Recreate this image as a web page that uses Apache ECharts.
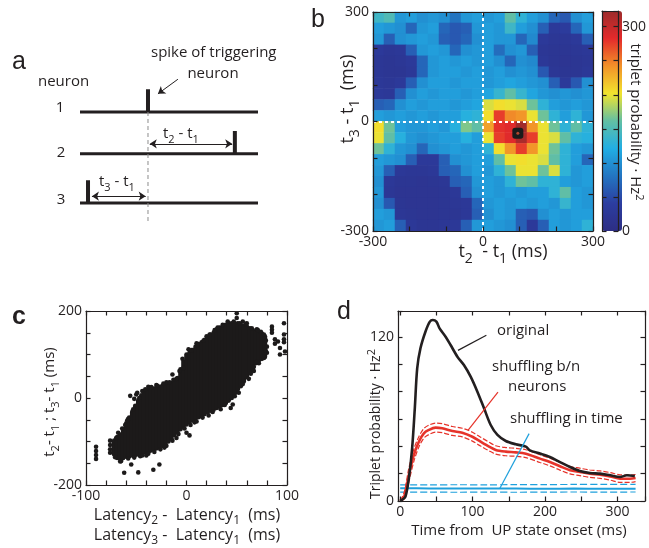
<!DOCTYPE html>
<html>
<head>
<meta charset="utf-8">
<script src="https://cdn.jsdelivr.net/npm/echarts@6/dist/echarts.min.js"></script>
<style>
html, body { margin: 0; padding: 0; background: #fff; }
#chart { width: 649px; height: 548px; }
</style>
</head>
<body>
<div id="chart"></div>
<script>
// ---------- panel a: schematic of one triplet ----------
var neuronNames = ['1', '2', '3'];
var rowLevels = [2, 1.08, 0];
var spikeTimes = [38.2, 87, 4.5];
var spikeHeight = 0.5;
var lagArrowLevels = [1.3, 0.15];
var dashBottom = -0.42;

// ---------- panel b: triplet probability map (Hz^2), 30 ms bins ----------
var binCenters = [-285, -255, -225, -195, -165, -135, -105, -75, -45, -15,
                  15, 45, 75, 105, 135, 165, 195, 225, 255, 285];
// rows from t3-t1 = +285 (top) down to -285 (bottom)
var heatRows = [
  [140,150,105,110,100,105,100,80,105,110,105,110,160,130,110,100,70,60,100,110],
  [110,105,100,70,105,110,70,60,65,105,110,105,140,110,100,65,30,35,70,105],
  [105,65,100,105,110,105,65,60,70,100,110,105,105,70,95,30,25,25,30,65],
  [30,25,28,65,105,110,105,70,100,105,110,75,100,105,65,25,22,22,25,28],
  [25,22,25,30,70,105,110,105,110,105,110,100,70,100,95,28,22,20,22,25],
  [25,22,22,28,70,105,110,110,105,110,105,110,100,105,100,60,25,22,22,28],
  [28,25,30,65,100,110,110,105,110,110,105,110,115,110,105,100,65,30,60,100],
  [30,28,65,100,110,105,110,110,105,110,115,135,160,135,115,105,100,105,100,105],
  [65,70,100,110,105,110,110,105,110,115,195,205,200,195,165,130,110,105,110,105],
  [110,105,110,105,110,105,110,110,125,130,205,275,245,240,200,165,130,110,130,105],
  [205,165,110,105,105,110,105,125,170,160,235,280,285,320,240,200,165,130,160,130],
  [200,160,125,105,100,105,110,110,125,110,200,275,285,315,275,200,195,160,130,125],
  [165,130,105,100,70,100,105,110,105,110,130,205,240,275,240,200,165,130,110,105],
  [110,105,100,65,30,30,65,100,105,110,110,160,200,205,200,195,160,130,110,70],
  [105,65,28,25,25,28,65,70,100,110,105,130,165,200,200,165,195,130,105,110],
  [100,28,22,22,20,22,25,65,70,105,110,105,130,165,160,130,130,110,105,110],
  [105,25,20,20,20,20,22,28,65,100,110,105,110,105,110,110,130,160,110,105],
  [100,60,22,20,20,20,22,25,28,70,105,110,105,110,105,110,105,135,110,105],
  [110,105,25,22,20,20,22,22,28,65,100,110,105,65,60,100,110,105,110,110],
  [105,110,65,28,22,22,25,28,65,105,110,105,100,65,30,65,110,105,110,130]
];
var heatMax = 323;
var peakPoint = [95, -32];
var bTicks = [-300, 0, 300];
var barTicks = [0, 300];

// ---------- panel c: latency difference vs. triplet lag ----------
// dense cloud: one column of points per latency difference (lowest, highest lag)
var cloudX  = [-72,-69,-66,-63,-60,-57,-54,-51,-48,-45,-42,-39,-36,-33,-30,-27,-24,-21,-18,-15,-12,-9,-6,-3,
               0,3,6,9,12,15,18,21,24,27,30,33,36,39,42,45,48,51,54,57,60,63,66,69,72,75,78];
var cloudLo = [-130,-138,-140,-138,-135,-134,-132,-131,-130,-128,-125,-123,-121,-119,-116,-113,-110,-106,-100,-93,-85,-78,-72,-66,
               -61,-56,-51,-48,-44,-40,-37,-33,-29,-27,-23,-20,-16,-12,-6,0,10,20,27,38,48,58,66,80,86,90,94];
var cloudHi = [-98,-90,-84,-76,-58,-45,-32,-18,-5,6,12,18,20,22,24,26,28,30,32,35,38,46,66,84,
               100,104,110,118,124,128,134,140,146,150,158,162,164,168,172,172,170,172,168,166,165,160,156,153,150,148,142];
// single trials sitting outside / on the rim of the cloud
var cloudStray = [
  [-90,-112],[-90,-122],[-90,-131],[-90,-140],[-76,-98],[-76,-108],[-76,-118],[-76,-126],
  [-62,-172],[-48,-171],[-55,-153],[-33,-165],[-27,-153],[-56,5],[-50,8],[-52,-2],[-49,12],
  [-14,54],[-3,69],[0,-80],[3,-86],[15,-42],[44,-23],[46,-15],[50,195],[50,184],[60,172],
  [67,72],[67,62],[77,105],[77,92],[85,164],[85,157],[85,150],[88,135],[88,125],[91,130],
  [93,115],[97,172],[97,146],[97,135],[97,128],[93,100],[98,107],[-66,-146],[-40,-132],
  [-68,-80],[-61,-62],[-58,-48],[-44,16],[-38,26],[-30,30],[-20,36],[-10,44],[-7,62],
  [2,112],[10,126],[20,142],[28,156],[36,168],[56,176],[70,158],[74,152],
  [-46,-134],[-22,-114],[-10,-92],[8,-56],[22,-40],[34,-26],[52,12],[62,44],[72,80],
  [-70,-92],[-64,-70],[-59,-52],[-53,-26],[-47,0],[-41,20],[-35,25],[-29,28],[-23,33],[-17,36],
  [-13,42],[-4,90],[5,110],[11,122],[17,132],[23,146],[31,162],[41,176],[47,176],[53,172],
  [59,170],[65,160],[71,156],[77,146],[79,132],[80,118],[80,104],
  [-71,-136],[-65,-145],[-58,-139],[-52,-137],[-44,-132],[-38,-128],[-32,-124],[-26,-118],[-20,-110],
  [-14,-98],[-8,-83],[-2,-70],[4,-62],[10,-54],[16,-45],[26,-32],[38,-16],[48,4],[56,32],[64,56],
  [70,84],[76,96],[79,108]
];
var cTicksX = [-100, 0, 100];
var cTicksY = [-200, 0, 200];

// ---------- panel d: triplet probability vs. time from UP onset ----------
var origX = [0,3,7.3,12,16.5,20.2,23.5,28,35,41,45,50,54.4,62.7,69.6,79,88,97.3,106.6,115.8,125,134.3,
             145.8,159.6,173.5,179,193,206.7,220.6,234.4,248,262,276,290,303.6,313,324];
var origY = [0,1,3.2,16.6,38.5,67.8,97,111.7,124,131.2,132.4,131.2,126.3,120.2,114.1,105.6,99.5,91,80,67.8,55.6,48.3,
             43.9,41.5,39.8,37,34.7,32.2,28.5,24.9,22,20.5,20,18.8,17.6,18.8,18.3];
var shufX  = [0,3,6.4,12,18.9,25.8,32.7,39.6,48.9,58,72,85.8,99.7,111,122.7,132,145.8,159.6,173.5,193,
              206.7,220.6,234.4,248,262,276,290,303.6,317,325];
var shufY  = [0,1.5,4.4,19,33.7,43.4,49.5,52,53.7,53.2,51.2,50,47,43.4,39.8,37.3,36.1,35.6,34.6,31,
              28.5,25.4,22.5,21.3,20,19.3,18,16.3,16.3,16.8];
var shufHi = [0.5,3,8,24,38,47,53,55.5,57,56.6,54.5,53.2,50.3,46.7,43,40.4,39.1,38.5,37.5,33.8,
              31.3,28.2,25.3,24,22.7,22,20.8,19.1,19,19.4];
var shufLo = [0,0.5,2,14,29,39.5,46,48.6,50.4,50,48,46.9,43.8,40.2,36.7,34.3,33.1,32.7,31.7,28.2,
              25.7,22.6,19.8,18.6,17.3,16.6,15.3,13.6,13.6,14.2];
var timeX  = [0,40,80,120,160,200,240,280,325];
var timeY  = [9.3,9.2,9.1,9.2,9.1,9.0,9.1,9.0,9.0];
var timeHi = [11.8,11.8,11.9,11.8,12.0,12.0,12.1,12.1,12.2];
var timeLo = [6.5,6.5,6.4,6.5,6.4,6.5,6.6,6.5,6.6];
var dTicksX = [0, 100, 200, 300];
var dTicksY = [0, 120];

// ---------- styling ----------
var INK = '#231f20';
var FONT = 'Open Sans';
var RED = '#e6332a';
var BLUE = '#1ea0dc';
var jet = ['#2d2e84', '#2c3da0', '#2375c2', '#21aee4', '#62bfa4', '#f2e42d', '#f29129', '#e42a2b', '#9c2b2b'];

function zip(xs, ys) { return xs.map(function (x, i) { return [x, ys[i]]; }); }

// one side of a MATLAB-style box: frame line plus inward ticks
function boxAxis(gridIndex, position, min, max, step, labelValues, showLabels) {
  var ax = {
    type: 'value', gridIndex: gridIndex, position: position, min: min, max: max, z: 6,
    axisLine: { show: true, onZero: false, lineStyle: { color: INK, width: 1.2 } },
    axisTick: { show: true, inside: true, length: 4.5, lineStyle: { color: INK, width: 1.2 } },
    splitLine: { show: false },
    axisLabel: {
      show: showLabels, margin: 4, color: INK, fontFamily: FONT, fontSize: 14,
      showMinLabel: true, showMaxLabel: true,
      formatter: function (v) { return labelValues.indexOf(v) >= 0 ? String(v) : ''; }
    }
  };
  if (step) ax.interval = step; else ax.splitNumber = 5;
  return ax;
}

function hiddenAxis(gridIndex, min, max) {
  return { type: 'value', gridIndex: gridIndex, min: min, max: max, show: false, axisLine: { onZero: false } };
}

function rich(size) {
  var small = Math.round(size * 0.75);
  return {
    n: { fontSize: size, fontFamily: FONT, fill: INK },
    s: { fontSize: small, fontFamily: FONT, fill: INK, padding: [Math.round(size * 0.75), 0, 0, 0] },
    p: { fontSize: small, fontFamily: FONT, fill: INK, padding: [0, 0, Math.round(size * 0.6), 0] }
  };
}

function label(text, x, y, size, align, extra) {
  var el = {
    type: 'text', x: x, y: y, z: 10,
    style: { text: text, fontSize: size, fontFamily: FONT, fill: INK, align: align || 'left', verticalAlign: 'middle' }
  };
  if (text.indexOf('{') >= 0) el.style.rich = rich(size);
  if (extra) for (var k in extra) el[k] = extra[k];
  return el;
}

function panelLetter(ch, x, y, bold) {
  return { type: 'text', x: x, y: y, z: 10,
    style: { text: ch, fontSize: 25, fontWeight: bold ? 'bold' : 'normal', fontFamily: 'Liberation Sans',
             fill: INK, align: 'left', verticalAlign: 'middle' } };
}

// ---------- series ----------
var series = [];

// panel a
neuronNames.forEach(function (n, i) {
  series.push({ type: 'line', xAxisIndex: 0, yAxisIndex: 0, symbol: 'none', silent: true,
    data: [[0, rowLevels[i]], [100, rowLevels[i]]], lineStyle: { color: INK, width: 3 } });
  series.push({ type: 'line', xAxisIndex: 0, yAxisIndex: 0, symbol: 'none', silent: true,
    data: [[spikeTimes[i], rowLevels[i]], [spikeTimes[i], rowLevels[i] + spikeHeight]],
    lineStyle: { color: INK, width: 4, cap: 'butt' } });
});
series.push({
  type: 'line', xAxisIndex: 0, yAxisIndex: 0, symbol: 'none', silent: true,
  data: [[spikeTimes[0], rowLevels[0]], [spikeTimes[0], dashBottom]],
  lineStyle: { color: '#8c8c8c', width: 1, type: [4, 3] },
  markLine: {
    silent: true, symbol: ['arrow', 'arrow'], symbolSize: 7, label: { show: false },
    lineStyle: { color: INK, width: 1, type: 'solid' },
    data: [
      [{ coord: [spikeTimes[0] + 1, lagArrowLevels[0]] }, { coord: [spikeTimes[1] - 1.5, lagArrowLevels[0]] }],
      [{ coord: [spikeTimes[2] + 2.2, lagArrowLevels[1]] }, { coord: [spikeTimes[0] - 1.3, lagArrowLevels[1]] }],
      [{ coord: [55, 2.72], symbol: 'none' }, { coord: [43.8, 2.4], symbol: 'arrow' }]
    ]
  }
});

// panel b
var heatData = [];
heatRows.forEach(function (row, r) {
  row.forEach(function (v, c) { heatData.push([c, heatRows.length - 1 - r, v]); });
});
var heatIndex = series.length;
series.push({ type: 'heatmap', xAxisIndex: 1, yAxisIndex: 1, data: heatData, silent: true,
  itemStyle: { borderWidth: 0 }, emphasis: { disabled: true } });
series.push({
  type: 'scatter', xAxisIndex: 2, yAxisIndex: 2, data: [peakPoint], symbol: 'roundRect', symbolSize: 11,
  itemStyle: { color: '#1b1b1b', opacity: 1 }, silent: true, z: 4,
  markLine: {
    silent: true, symbol: 'none', label: { show: false },
    lineStyle: { color: '#ffffff', width: 2, type: [3, 3] },
    data: [{ xAxis: 0 }, { yAxis: 0 }]
  }
});
series.push({ type: 'scatter', xAxisIndex: 2, yAxisIndex: 2, data: [peakPoint], symbolSize: 3,
  itemStyle: { color: '#b4452e', opacity: 1 }, silent: true, z: 5 });

// panel c
series.push({
  type: 'custom', xAxisIndex: 5, yAxisIndex: 6, silent: true,
  data: cloudX.map(function (x, i) { return [x, cloudLo[i], cloudHi[i]]; }),
  encode: { x: 0, y: [1, 2] },
  renderItem: function (params, api) {
    var p0 = api.coord([api.value(0), api.value(1)]);
    var p1 = api.coord([api.value(0), api.value(2)]);
    return { type: 'line', shape: { x1: p0[0], y1: p0[1], x2: p1[0], y2: p1[1] },
      style: { stroke: '#1c1a1a', lineWidth: 4.6, lineCap: 'round' } };
  }
});
series.push({ type: 'scatter', xAxisIndex: 5, yAxisIndex: 6, data: cloudStray, symbolSize: 4.6,
  itemStyle: { color: '#1c1a1a', opacity: 1 }, silent: true });

// panel d
function dLine(xs, ys, color, width, dash, extra) {
  var s = { type: 'line', xAxisIndex: 7, yAxisIndex: 8, symbol: 'none', silent: true, smooth: 0.3,
    data: zip(xs, ys), lineStyle: { color: color, width: width, type: dash || 'solid' } };
  if (extra) for (var k in extra) s[k] = extra[k];
  return s;
}
function pointer(a, b, color) {
  return { silent: true, symbol: 'none', label: { show: false },
    lineStyle: { color: color, width: 1.2, type: 'solid' },
    data: [[{ coord: a }, { coord: b }]] };
}
series.push(dLine(timeX, timeHi, BLUE, 1.2, [7, 3]));
series.push(dLine(timeX, timeLo, BLUE, 1.2, [7, 3]));
series.push(dLine(timeX, timeY, BLUE, 2, 'solid', { markLine: pointer([178, 49.3], [137.5, 9.1], BLUE) }));
series.push(dLine(shufX, shufHi, RED, 1.2, [5, 2]));
series.push(dLine(shufX, shufLo, RED, 1.2, [5, 2]));
series.push(dLine(shufX, shufY, RED, 2.6, 'solid', { markLine: pointer([135, 79.7], [93.6, 51.7], RED) }));
series.push(dLine(origX, origY, INK, 2.6, 'solid', { markLine: pointer([119, 121.2], [79.8, 110.2], INK) }));

// ---------- text ----------
var graphic = [
  panelLetter('a', 12, 62), panelLetter('b', 311, 20), panelLetter('c', 12, 317, true), panelLetter('d', 337, 312),
  label('neuron', 38, 82, 15),
  label(neuronNames[0], 60, 108, 15, 'center'),
  label(neuronNames[1], 61, 153, 15, 'center'),
  label(neuronNames[2], 61, 200, 15, 'center'),
  label('spike of triggering', 151, 53, 15),
  label('neuron', 213, 74, 15, 'center'),
  label('{n|t}{s|2}{n| - t}{s|1}', 163, 134, 15),
  label('{n|t}{s|3}{n| - t}{s|1}', 99, 182, 15),
  label('{n|t}{s|2}{n|  - t}{s|1}{n| (ms)}', 503, 252, 18, 'center'),
  label('{n|t}{s|3}{n| - t}{s|1}{n|  (ms)}', 348, 99, 18, 'center', { rotation: Math.PI / 2 }),
  label('{n|triplet probability · Hz}{p|2}', 635, 122, 15, 'center', { rotation: -Math.PI / 2 }),
  label('{n|t}{s|2}{n|- t}{s|1}{n| ; t}{s|3}{n|- t}{s|1}{n| (ms)}', 50, 402, 15, 'center', { rotation: Math.PI / 2 }),
  label('{n|Latency}{s|2}{n| -  Latency}{s|1}{n|  (ms)}', 187, 515, 16, 'center'),
  label('{n|Latency}{s|3}{n| -  Latency}{s|1}{n|  (ms)}', 187, 535, 16, 'center'),
  label('{n|Triplet probability · Hz}{p|2}', 376, 424, 14, 'center', { rotation: Math.PI / 2 }),
  label('Time from  UP state onset (ms)', 519, 531, 15, 'center'),
  label('original', 497, 331, 15),
  label('shuffling b/n', 492, 367, 15),
  label('neurons', 508, 387, 15),
  label('shuffling in time', 510, 419, 15)
];

var option = {
  animation: false,
  backgroundColor: '#ffffff',
  grid: [
    { left: 80, top: 66.5, width: 178, height: 159.25 },
    { left: 373, top: 12, width: 220, height: 219 },
    { left: 373, top: 12, width: 220, height: 219 },
    { left: 602, top: 11, width: 20, height: 220 },
    { left: 86, top: 311, width: 201, height: 174 },
    { left: 398, top: 311, width: 247, height: 190 }
  ],
  xAxis: [
    hiddenAxis(0, 0, 100),
    { type: 'category', gridIndex: 1, data: binCenters, show: false },
    boxAxis(2, 'bottom', -300, 300, 100, bTicks, true),
    boxAxis(2, 'top', -300, 300, 100, bTicks, false),
    { type: 'value', gridIndex: 3, min: 0, max: 1, position: 'top', z: 6,
      axisLine: { show: true, onZero: false, lineStyle: { color: INK, width: 1.2 } },
      axisTick: { show: false }, axisLabel: { show: false }, splitLine: { show: false } },
    boxAxis(4, 'bottom', -100, 100, 20, cTicksX, true),
    boxAxis(4, 'top', -100, 100, 20, cTicksX, false),
    boxAxis(5, 'bottom', -3, 338, null, dTicksX, true),
    boxAxis(5, 'top', -3, 338, null, dTicksX, false)
  ],
  yAxis: [
    hiddenAxis(0, -0.5, 3),
    { type: 'category', gridIndex: 1, data: binCenters, show: false },
    boxAxis(2, 'left', -300, 300, 100, bTicks, true),
    boxAxis(2, 'right', -300, 300, 100, bTicks, false),
    boxAxis(3, 'left', 0, heatMax, 50, barTicks, false),
    boxAxis(3, 'right', 0, heatMax, 50, barTicks, true),
    boxAxis(4, 'left', -200, 200, 50, cTicksY, true),
    boxAxis(4, 'right', -200, 200, 50, cTicksY, false),
    boxAxis(5, 'left', 0, 139, 20, dTicksY, true),
    boxAxis(5, 'right', 0, 139, 20, dTicksY, false)
  ],
  visualMap: {
    type: 'continuous', seriesIndex: heatIndex, min: 0, max: heatMax, calculable: false,
    orient: 'vertical', left: 602, top: 11, itemWidth: 20, itemHeight: 220, padding: 0,
    inRange: { color: jet }
  },
  graphic: graphic,
  series: series
};

var chart = echarts.init(document.getElementById('chart'), null, { renderer: 'canvas' });
chart.setOption(option);
</script>
</body>
</html>
